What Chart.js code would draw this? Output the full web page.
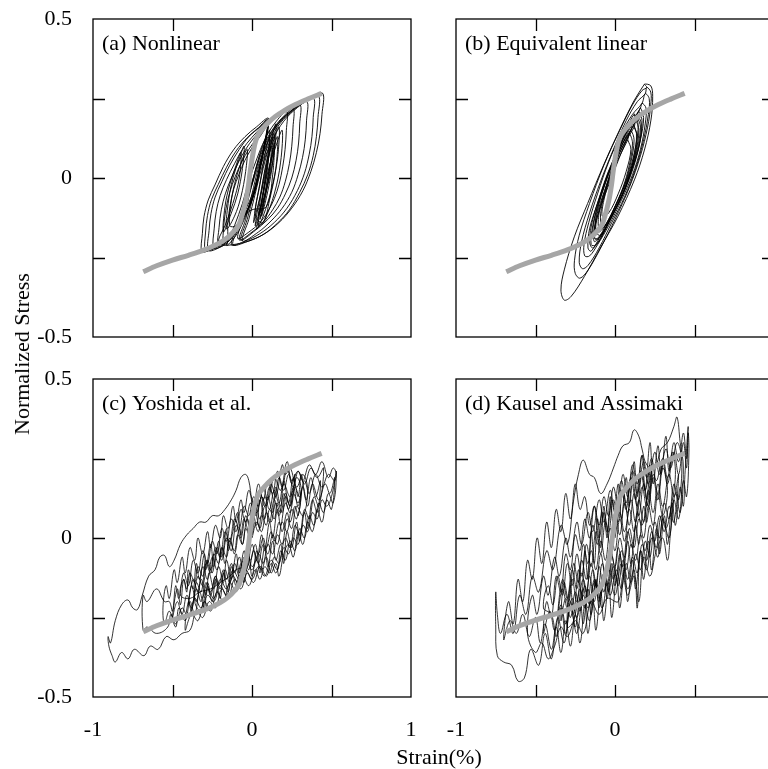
<!DOCTYPE html>
<html>
<head>
<meta charset="utf-8">
<script src="https://cdn.jsdelivr.net/npm/chart.js@4.4.0/dist/chart.umd.min.js"></script>
<style>
  body { margin: 0; background: #fff; overflow: hidden; }
  #fig { position: relative; width: 768px; height: 769px; overflow: hidden; font-family: "Liberation Serif", "Times New Roman", serif; }
  .panel { position: absolute; }
  .lbl { position: absolute; font-size: 22px; line-height: 26px; color: #000; white-space: nowrap; transform: translate(-50%, -50%); }
  #ylab { left: 22px; top: 354px; transform: translate(-50%, -50%) rotate(-90deg); }
  #xlab { left: 439px; top: 757px; }
</style>
</head>
<body>
<div id="fig">
  <div class="panel" style="left:0;top:0;width:440px;height:370px"><canvas id="panelA"></canvas></div>
  <div class="panel" style="left:440px;top:0;width:360px;height:370px"><canvas id="panelB"></canvas></div>
  <div class="panel" style="left:0;top:360px;width:440px;height:409px"><canvas id="panelC"></canvas></div>
  <div class="panel" style="left:440px;top:360px;width:360px;height:409px"><canvas id="panelD"></canvas></div>
  <div class="lbl" id="ylab">Normalized Stress</div>
  <div class="lbl" id="xlab">Strain(%)</div>
</div>
<script>
// axes
const xTickValues = [-1, -0.5, 0, 0.5, 1];
const xTickLabels = ['-1', '', '0', '', '1'];
const yTickValues = [-0.5, -0.25, 0, 0.25, 0.5];
const yTickLabels = ['-0.5', '', '0', '', '0.5'];
const panelTitles = ['(a) Nonlinear', '(b) Equivalent linear', '(c) Yoshida et al.', '(d) Kausel and Assimaki'];

// gray backbone curve (same in every panel)
const backboneStrain = [-0.684, -0.6, -0.5, -0.4, -0.3, -0.2, -0.15, -0.107, -0.08, -0.065, -0.05, -0.034, -0.022, -0.013, -0.003, 0.008, 0.019, 0.035, 0.061, 0.1, 0.145, 0.2, 0.27, 0.35, 0.438];
const backboneStress = [-0.295, -0.276, -0.258, -0.243, -0.226, -0.203, -0.186, -0.164, -0.145, -0.122, -0.095, -0.059, -0.022, 0.015, 0.05, 0.082, 0.109, 0.133, 0.151, 0.173, 0.193, 0.211, 0.23, 0.248, 0.266];

// (a) nonlinear stress-strain loops [strain, stress]
const nonlinearLoops = [
  [0.0,-0.02],[0.04,0.06],[0.08,0.12],[0.11,0.15],[0.1,0.07],[0.07,-0.02],[0.03,-0.1],[0.01,-0.14],[0.03,-0.07],[0.07,0.03],[0.12,0.12],[0.15,0.17],[0.14,0.08],[0.1,-0.02],[0.05,-0.1],[0.02,-0.15],
  [0.05,-0.06],[0.09,0.04],[0.13,0.11],[0.17,0.16],[0.16,0.06],[0.12,-0.04],[0.07,-0.12],[0.03,-0.16],
  [0.06,-0.08],[0.1,0.02],[0.15,0.1],[0.19,0.15],[0.18,0.05],[0.14,-0.05],[0.08,-0.13],[0.04,-0.15],
  [0.07,-0.05],[0.1,0.05],[0.13,0.13],[0.12,0.04],[0.08,-0.06],[0.05,-0.11],
  [0.08,-0.01],[0.11,0.08],[0.14,0.14],[0.13,0.05],[0.1,-0.04],[0.06,-0.12],[0.09,-0.03],[0.12,0.06],[0.16,0.13],[0.15,0.03],[0.11,-0.07],[0.07,-0.14],
  [0.02,-0.12],[0.05,-0.02],[0.08,0.07],[0.11,0.13],[0.1,0.04],[0.07,-0.05],[0.04,-0.12],[0.06,-0.04],[0.09,0.05],[0.12,0.1],[0.11,0.02],[0.08,-0.07],[0.05,-0.13],[0.08,-0.05],[0.11,0.03],[0.14,0.11],[0.13,0.01],[0.09,-0.09],
  [0.0,-0.1],[-0.05,-0.12],[-0.1,-0.15],[-0.14,-0.15],[-0.13,-0.07],[-0.1,0.0],[-0.06,0.06],[-0.03,0.09],[-0.04,0.02],[-0.07,-0.06],[-0.11,-0.12],[-0.16,-0.16],[-0.15,-0.08],[-0.12,0.0],[-0.08,0.06],[-0.05,0.1],[-0.06,0.03],[-0.09,-0.05],[-0.13,-0.11],[-0.18,-0.17],[-0.17,-0.09],[-0.14,-0.02],[-0.1,0.04],[-0.07,0.08],[-0.08,0.0],[-0.12,-0.08],[-0.17,-0.15],[-0.21,-0.2],
  [-0.159,-0.21],[-0.152,-0.14],[-0.137,-0.085],[-0.115,-0.035],[-0.082,0.012],[-0.045,0.055],[0.0,0.095],[0.05,0.13],[0.1,0.165],
  [0.08,0.11],[0.05,0.04],[0.01,-0.04],[-0.05,-0.11],[-0.11,-0.17],[-0.18,-0.208],
  [-0.184,-0.21],[-0.178,-0.15],[-0.163,-0.095],[-0.14,-0.045],[-0.105,0.005],[-0.065,0.05],[-0.02,0.09],[0.03,0.125],[0.08,0.155],[0.1,0.17],
  [0.085,0.12],[0.055,0.05],[0.02,-0.03],[-0.03,-0.1],[-0.1,-0.17],[-0.16,-0.205],
  [-0.212,-0.215],[-0.207,-0.155],[-0.193,-0.1],[-0.168,-0.05],[-0.13,0.0],[-0.085,0.05],[-0.04,0.09],[0.01,0.125],[0.07,0.158],[0.1,0.175],
  [0.09,0.13],[0.06,0.06],[0.03,-0.02],[-0.02,-0.09],[-0.08,-0.15],[-0.15,-0.2],[-0.21,-0.22],
  [-0.243,-0.22],[-0.238,-0.16],[-0.225,-0.105],[-0.2,-0.055],[-0.16,-0.005],[-0.11,0.045],[-0.06,0.09],[0.0,0.128],[0.06,0.16],[0.1,0.18],
  [0.09,0.14],[0.065,0.07],[0.035,0.0],[-0.01,-0.08],[-0.07,-0.14],[-0.14,-0.19],[-0.22,-0.222],
  [-0.275,-0.227],[-0.27,-0.165],[-0.258,-0.112],[-0.232,-0.06],[-0.19,-0.012],[-0.14,0.04],[-0.08,0.09],[-0.02,0.13],[0.05,0.16],[0.1,0.182],
  [0.095,0.15],[0.07,0.08],[0.04,0.01],[0.0,-0.07],[-0.06,-0.13],[-0.13,-0.18],[-0.21,-0.215],[-0.27,-0.228],
  [-0.296,-0.229],[-0.292,-0.17],[-0.28,-0.118],[-0.255,-0.068],[-0.212,-0.02],[-0.16,0.034],[-0.1,0.085],[-0.03,0.127],[0.04,0.158],[0.1,0.185],
  [0.1,0.155],[0.075,0.09],[0.045,0.02],[0.005,-0.06],[-0.05,-0.12],[-0.12,-0.175],[-0.2,-0.21],[-0.28,-0.23],
  [-0.317,-0.232],[-0.312,-0.174],[-0.302,-0.122],[-0.275,-0.069],[-0.233,-0.022],[-0.18,0.036],[-0.117,0.088],[-0.044,0.13],[0.029,0.161],[0.103,0.188],
  [0.09,0.13],[0.06,0.05],[0.02,-0.04],[-0.04,-0.12],[-0.1,-0.18],[-0.16,-0.212],
  [-0.11,-0.15],[-0.06,-0.08],[-0.02,-0.01],[0.03,0.06],[0.08,0.12],[0.14,0.17],[0.218,0.209],
  [0.216,0.15],[0.208,0.09],[0.193,0.035],[0.17,-0.02],[0.14,-0.065],[0.1,-0.105],[0.05,-0.14],[-0.02,-0.17],[-0.09,-0.19],
  [-0.05,-0.12],[-0.01,-0.04],[0.03,0.04],[0.08,0.11],[0.14,0.16],[0.2,0.195],[0.26,0.219],
  [0.258,0.16],[0.25,0.1],[0.235,0.045],[0.21,-0.01],[0.175,-0.06],[0.13,-0.1],[0.07,-0.14],[0.0,-0.17],[-0.08,-0.195],
  [-0.04,-0.13],[0.0,-0.05],[0.04,0.03],[0.09,0.1],[0.15,0.16],[0.22,0.2],[0.302,0.23],
  [0.3,0.17],[0.293,0.11],[0.277,0.055],[0.25,0.0],[0.21,-0.05],[0.16,-0.095],[0.1,-0.13],[0.02,-0.165],[-0.07,-0.195],
  [-0.03,-0.13],[0.01,-0.05],[0.05,0.03],[0.1,0.1],[0.16,0.16],[0.24,0.205],[0.344,0.24],
  [0.343,0.18],[0.335,0.12],[0.318,0.065],[0.29,0.01],[0.25,-0.045],[0.19,-0.095],[0.12,-0.135],[0.04,-0.17],[-0.06,-0.198],
  [-0.02,-0.13],[0.02,-0.05],[0.06,0.03],[0.11,0.1],[0.18,0.165],[0.27,0.215],[0.386,0.25],
  [0.385,0.19],[0.377,0.13],[0.36,0.075],[0.33,0.015],[0.285,-0.04],[0.22,-0.095],[0.14,-0.14],[0.05,-0.175],[-0.05,-0.2],[-0.13,-0.21],
  [-0.08,-0.14],[-0.03,-0.06],[0.02,0.02],[0.07,0.09],[0.13,0.15],[0.21,0.195],[0.31,0.232],[0.417,0.258],
  [0.415,0.19],[0.405,0.13],[0.385,0.07],[0.35,0.01],[0.3,-0.045],[0.235,-0.1],[0.16,-0.142],[0.07,-0.178],[-0.03,-0.2],[-0.12,-0.21],
  [-0.08,-0.15],[-0.03,-0.07],[0.02,0.01],[0.07,0.08],[0.13,0.145],[0.2,0.19],[0.29,0.228],[0.37,0.25],[0.445,0.266],
  [0.44,0.2],[0.428,0.14],[0.405,0.08],[0.37,0.02],[0.32,-0.04],[0.25,-0.095],[0.17,-0.14],[0.08,-0.175],[-0.02,-0.198],[-0.1,-0.208],[-0.16,-0.212]
];

// (b) equivalent linear ellipses [strain, stress]
const equivalentLoops = [
  [0.08,0.12],[0.1,0.09],[0.07,0.02],[0.02,-0.05],[-0.04,-0.11],[-0.08,-0.12],[-0.07,-0.07],[-0.03,0.0],[0.03,0.07],[0.08,0.12],
  [0.09,0.14],[0.11,0.11],[0.09,0.04],[0.05,-0.03],[-0.01,-0.1],[-0.06,-0.15],[-0.09,-0.14],[-0.08,-0.08],[-0.04,-0.01],[0.02,0.07],[0.09,0.14],
  [0.1,0.15],[0.12,0.12],[0.1,0.05],[0.06,-0.02],[0.0,-0.09],[-0.06,-0.15],[-0.1,-0.16],[-0.1,-0.11],[-0.06,-0.04],[-0.01,0.04],[0.05,0.11],[0.1,0.15],
  [0.11,0.17],[0.135,0.14],[0.12,0.07],[0.08,-0.01],[0.02,-0.08],[-0.04,-0.14],[-0.09,-0.18],[-0.12,-0.17],[-0.11,-0.12],[-0.07,-0.05],[-0.02,0.03],[0.04,0.1],[0.11,0.17],
  [0.12,0.16],[0.14,0.13],[0.12,0.06],[0.07,-0.02],[0.01,-0.09],[-0.05,-0.15],[-0.1,-0.19],[-0.13,-0.19],[-0.12,-0.13],[-0.08,-0.06],[-0.02,0.02],[0.05,0.1],[0.12,0.16],
  [0.13,0.18],[0.15,0.15],[0.13,0.08],[0.08,0.0],[0.02,-0.07],[-0.05,-0.14],[-0.11,-0.19],[-0.14,-0.18],[-0.12,-0.11],[-0.07,-0.03],[-0.01,0.05],[0.06,0.12],[0.13,0.18],
  [0.12,0.2],[0.145,0.17],[0.13,0.1],[0.09,0.02],[0.03,-0.06],[-0.04,-0.13],[-0.1,-0.17],[-0.125,-0.15],[-0.1,-0.08],[-0.05,0.0],[0.01,0.08],[0.07,0.15],[0.12,0.2],
  [0.14,0.19],[0.16,0.16],[0.14,0.09],[0.1,0.02],[0.04,-0.06],[-0.03,-0.13],[-0.09,-0.18],[-0.13,-0.2],[-0.13,-0.16],[-0.09,-0.09],[-0.03,-0.01],[0.04,0.08],[0.1,0.15],[0.14,0.19],
  [0.14,0.2],[0.165,0.17],[0.15,0.1],[0.1,0.02],[0.04,-0.06],[-0.03,-0.13],[-0.1,-0.19],[-0.15,-0.23],[-0.17,-0.22],[-0.16,-0.16],[-0.11,-0.08],[-0.05,0.01],[0.02,0.09],[0.09,0.16],[0.14,0.2],
  [0.15,0.21],[0.17,0.18],[0.155,0.11],[0.11,0.03],[0.05,-0.05],[-0.02,-0.12],[-0.09,-0.19],[-0.14,-0.22],[-0.16,-0.2],[-0.14,-0.13],[-0.09,-0.05],[-0.02,0.04],[0.05,0.12],[0.11,0.18],[0.15,0.21],
  [0.16,0.22],[0.18,0.19],[0.16,0.12],[0.12,0.04],[0.06,-0.04],[-0.01,-0.11],[-0.07,-0.17],[-0.12,-0.21],[-0.15,-0.21],[-0.14,-0.15],[-0.1,-0.07],[-0.04,0.02],[0.03,0.1],[0.1,0.17],[0.16,0.22],
  [0.17,0.235],[0.195,0.22],[0.19,0.17],[0.16,0.09],[0.11,0.01],[0.04,-0.07],[-0.04,-0.15],[-0.11,-0.21],[-0.16,-0.245],[-0.19,-0.245],[-0.195,-0.21],[-0.165,-0.14],[-0.11,-0.05],[-0.04,0.05],[0.04,0.14],[0.11,0.2],[0.17,0.235],
  [0.19,0.265],[0.215,0.25],[0.21,0.2],[0.18,0.12],[0.13,0.03],[0.06,-0.06],[-0.02,-0.14],[-0.1,-0.22],[-0.17,-0.275],[-0.205,-0.285],[-0.225,-0.265],[-0.21,-0.2],[-0.16,-0.11],[-0.09,-0.01],[-0.01,0.09],[0.07,0.18],[0.14,0.24],[0.19,0.265],
  [0.2,0.285],[0.225,0.27],[0.225,0.23],[0.205,0.16],[0.16,0.07],[0.09,-0.03],[0.0,-0.13],[-0.09,-0.22],[-0.17,-0.29],[-0.22,-0.315],[-0.25,-0.3],[-0.255,-0.26],[-0.225,-0.18],[-0.16,-0.08],[-0.07,0.04],[0.03,0.15],[0.11,0.23],[0.17,0.275],[0.2,0.285],
  [0.185,0.295],[0.225,0.29],[0.237,0.256],[0.226,0.182],[0.185,0.088],[0.122,-0.006],[0.017,-0.122],[-0.088,-0.216],[-0.193,-0.31],[-0.277,-0.373],[-0.319,-0.384],[-0.34,-0.352],[-0.319,-0.289],[-0.256,-0.185],[-0.172,-0.08],[-0.067,0.046],[0.038,0.161],[0.122,0.245],[0.185,0.295]
];

// (c) Yoshida et al. [strain, stress]
const yoshidaLoops = [
  [0.0,0.0],[0.03,0.05],[0.06,0.02],[0.09,0.08],[0.12,0.05],[0.15,0.11],[0.18,0.08],[0.21,0.14],[0.24,0.1],[0.27,0.16],[0.3,0.13],[0.33,0.18],[0.36,0.14],[0.4,0.2],[0.44,0.16],[0.48,0.2],[0.52,0.18],[0.53,0.21],
  [0.5,0.13],[0.47,0.1],[0.44,0.12],[0.41,0.06],[0.38,0.08],[0.35,0.02],[0.32,0.04],[0.29,-0.02],[0.26,0.0],[0.23,-0.05],[0.2,-0.03],[0.17,-0.08],[0.14,-0.06],[0.11,-0.11],[0.08,-0.09],[0.05,-0.13],[0.02,-0.1],[-0.02,-0.15],[-0.06,-0.12],[-0.1,-0.17],[-0.14,-0.14],[-0.18,-0.2],[-0.22,-0.17],[-0.26,-0.23],[-0.3,-0.2],[-0.34,-0.26],[-0.38,-0.24],[-0.42,-0.29],
  [-0.4,-0.2],[-0.38,-0.23],[-0.35,-0.14],[-0.32,-0.17],[-0.29,-0.08],[-0.26,-0.11],[-0.23,-0.03],[-0.2,-0.06],[-0.17,0.02],[-0.14,-0.01],[-0.11,0.06],[-0.08,0.03],[-0.05,0.1],[-0.02,0.07],[0.01,0.13],[0.04,0.1],[0.07,0.16],[0.1,0.12],[0.14,0.19],[0.18,0.15],[0.22,0.24],[0.25,0.18],[0.29,0.21],[0.33,0.17],[0.37,0.22],[0.41,0.19],[0.45,0.22],
  [0.42,0.1],[0.39,0.13],[0.36,0.06],[0.33,0.09],[0.3,0.01],[0.27,0.04],[0.24,-0.03],[0.21,0.0],[0.18,-0.06],[0.15,-0.11],[0.12,-0.08],[0.09,-0.12],[0.05,-0.09],[0.01,-0.14],[-0.03,-0.11],[-0.07,-0.16],[-0.11,-0.13],[-0.15,-0.19],[-0.19,-0.16],[-0.23,-0.22],[-0.27,-0.2],[-0.31,-0.25],[-0.35,-0.23],[-0.39,-0.29],[-0.44,-0.3],[-0.49,-0.32],[-0.54,-0.31],[-0.59,-0.35],[-0.64,-0.34],[-0.68,-0.37],[-0.74,-0.35],[-0.78,-0.38],[-0.82,-0.36],[-0.86,-0.39],[-0.88,-0.37],[-0.9,-0.34],[-0.905,-0.31],[-0.89,-0.33],
  [-0.86,-0.26],[-0.82,-0.21],[-0.78,-0.195],[-0.75,-0.22],[-0.72,-0.225],[-0.69,-0.18],[-0.65,-0.12],[-0.61,-0.1],[-0.58,-0.06],[-0.55,-0.055],[-0.52,-0.09],[-0.49,-0.07],[-0.45,-0.02],[-0.41,0.01],[-0.37,0.03],[-0.33,0.05],[-0.29,0.05],[-0.25,0.07],[-0.21,0.07],[-0.17,0.09],[-0.13,0.12],[-0.1,0.15],[-0.07,0.19],[-0.04,0.2],[-0.02,0.18],[0.0,0.12],[0.03,0.08],[0.06,0.13],[0.09,0.1],[0.12,0.17],[0.15,0.13],[0.19,0.23],[0.21,0.2],[0.24,0.22],[0.28,0.16],[0.32,0.2],[0.35,0.15],
  [0.32,0.07],[0.28,0.1],[0.25,0.03],[0.22,0.06],[0.19,-0.02],[0.16,0.01],[0.13,-0.05],[0.1,-0.02],[0.07,-0.08],[0.04,-0.05],[0.0,-0.1],[-0.04,-0.07],[-0.08,-0.13],[-0.12,-0.1],[-0.16,-0.16],[-0.2,-0.13],[-0.24,-0.19],[-0.28,-0.16],[-0.32,-0.22],[-0.36,-0.19],[-0.4,-0.25],[-0.44,-0.22],[-0.48,-0.27],[-0.51,-0.24],[-0.53,-0.28],[-0.6,-0.3],[-0.66,-0.28],[-0.685,-0.29],[-0.685,-0.18],[-0.66,-0.2],
  [-0.6,-0.16],[-0.55,-0.2],[-0.52,-0.2],[-0.5,-0.23],[-0.48,-0.15],[-0.46,-0.19],[-0.43,-0.11],[-0.4,-0.15],[-0.37,-0.07],[-0.34,-0.11],[-0.31,-0.04],[-0.28,-0.08],[-0.25,-0.01],[-0.22,-0.05],[-0.19,0.03],[-0.16,-0.01],[-0.13,0.06],[-0.1,0.02],[-0.07,0.09],[-0.04,0.05],[-0.01,0.11],[0.02,0.07],[0.05,0.14],[0.08,0.1],[0.11,0.16],[0.14,0.12],[0.17,0.19],[0.2,0.15],[0.23,0.2],[0.26,0.16],[0.29,0.21],[0.32,0.18],[0.36,0.23],[0.4,0.2],[0.44,0.24],[0.48,0.19],[0.51,0.22],[0.53,0.2],
  [0.51,0.11],[0.48,0.14],[0.45,0.08],[0.42,0.11],[0.39,0.04],[0.36,0.07],[0.33,0.0],[0.3,0.03],[0.27,-0.04],[0.24,-0.01],[0.21,-0.07],[0.18,-0.04],[0.16,-0.1],[0.12,-0.07],[0.08,-0.12],[0.04,-0.09],[0.0,-0.13],[-0.04,-0.1],[-0.08,-0.15],[-0.12,-0.12],[-0.16,-0.18],[-0.2,-0.15],[-0.24,-0.2],[-0.28,-0.18],[-0.32,-0.23],[-0.36,-0.2],
  [-0.34,-0.12],[-0.31,-0.15],[-0.28,-0.07],[-0.25,-0.11],[-0.22,-0.03],[-0.19,-0.07],[-0.16,0.0],[-0.13,-0.04],[-0.1,0.04],[-0.07,0.0],[-0.04,0.07],[-0.01,0.03],[0.02,0.1],[0.05,0.06],[0.08,0.13],[0.11,0.09],[0.14,0.15],[0.17,0.11],[0.2,0.17],[0.24,0.13],[0.28,0.19],[0.31,0.15],
  [0.28,0.06],[0.25,0.09],[0.22,0.02],[0.19,0.05],[0.16,-0.02],[0.13,0.01],[0.1,-0.05],[0.07,-0.02],[0.04,-0.08],[0.01,-0.04],[-0.02,-0.1],[-0.05,-0.06],[-0.08,-0.12],[-0.11,-0.08],[-0.14,-0.14],[-0.17,-0.1],[-0.2,-0.16],[-0.23,-0.12],[-0.26,-0.18],[-0.29,-0.14],[-0.32,-0.2],[-0.35,-0.16],[-0.38,-0.22],[-0.41,-0.18],[-0.44,-0.24],[-0.47,-0.2],[-0.5,-0.25],
  [-0.47,-0.16],[-0.45,-0.21],[-0.43,-0.13],[-0.41,-0.17],[-0.4,-0.1],[-0.37,-0.16],[-0.35,-0.08],[-0.33,-0.13],[-0.3,-0.05],[-0.29,-0.1],[-0.26,-0.02],[-0.24,-0.09],[-0.21,-0.01],[-0.19,-0.06],[-0.16,0.03],[-0.15,-0.04],[-0.12,0.02],[-0.09,0.08],[-0.07,0.01],[-0.05,0.06],[-0.02,0.02],[0.0,0.09],[0.03,0.04],[0.05,0.12],[0.08,0.06],[0.1,0.13],[0.13,0.08],[0.15,0.16],[0.18,0.1],[0.2,0.18],[0.23,0.11],[0.26,0.19],[0.29,0.13],[0.31,0.2],[0.34,0.12],[0.37,0.19],[0.4,0.13],[0.43,0.18],
  [0.41,0.08],[0.38,0.12],[0.35,0.03],[0.33,0.08],[0.3,-0.01],[0.28,0.05],[0.25,-0.03],[0.22,0.02],[0.2,-0.08],[0.18,-0.02],[0.15,-0.07],[0.13,-0.01],[0.1,-0.09],[0.08,-0.03],[0.05,-0.11],[0.03,-0.04],[0.0,-0.12],[-0.02,-0.06],[-0.05,-0.14],[-0.07,-0.08],[-0.1,-0.15],[-0.13,-0.09],[-0.15,-0.17],[-0.18,-0.11],[-0.2,-0.19],[-0.23,-0.13],[-0.25,-0.2],[-0.28,-0.15],[-0.3,-0.22],[-0.33,-0.17],[-0.36,-0.24],[-0.39,-0.2],[-0.42,-0.26],[-0.46,-0.22],[-0.48,-0.28],[-0.52,-0.23],[-0.55,-0.27],[-0.56,-0.22],
  [-0.54,-0.15],[-0.52,-0.19],[-0.49,-0.1],[-0.47,-0.14],[-0.44,-0.06],[-0.42,-0.11],[-0.39,-0.03],[-0.36,-0.07],[-0.34,0.0],[-0.31,-0.05],[-0.28,0.02],[-0.26,-0.03],[-0.23,0.04],[-0.2,0.0],[-0.18,0.07],[-0.15,0.03],[-0.12,0.1],[-0.1,0.05],[-0.07,0.12],[-0.05,0.08],[-0.02,0.15],[0.01,0.1],[0.04,0.17],[0.07,0.12],[0.1,0.18],[0.13,0.14],[0.16,0.21],[0.19,0.16],[0.22,0.22],[0.25,0.17],[0.27,0.2],
  [0.24,0.08],[0.21,0.11],[0.18,0.04],[0.16,0.09],[0.13,0.0],[0.11,0.05],[0.08,-0.04],[0.06,0.01],[0.03,-0.07],[0.0,-0.02],[-0.03,-0.09],[-0.05,-0.04],[-0.08,-0.11],[-0.1,-0.05],[-0.13,-0.13],[-0.16,-0.07],[-0.18,-0.14],[-0.21,-0.09],[-0.24,-0.16],[-0.27,-0.11],[-0.29,-0.18],[-0.32,-0.13],[-0.35,-0.2],[-0.38,-0.15],[-0.4,-0.21],
  [-0.37,-0.13],[-0.34,-0.17],[-0.31,-0.09],[-0.28,-0.13],[-0.25,-0.06],[-0.22,-0.1],[-0.19,-0.03],[-0.17,-0.08],[-0.14,0.0],[-0.11,-0.05],[-0.08,0.03],[-0.06,-0.02],[-0.03,0.06],[0.0,0.01],[0.02,0.08],[0.05,0.03],[0.08,0.1],[0.11,0.05],[0.14,0.12],[0.17,0.07],[0.2,0.14],[0.23,0.09],[0.26,0.16],[0.29,0.1],[0.32,0.16],[0.35,0.1],[0.38,0.17],[0.42,0.12],[0.46,0.17],[0.49,0.14],[0.52,0.19],
  [0.5,0.09],[0.47,0.12],[0.44,0.05],[0.41,0.09],[0.38,0.02],[0.35,0.05],[0.32,-0.02],[0.29,0.02],[0.26,-0.06],[0.23,-0.02],[0.2,-0.05],[0.17,-0.12],[0.15,-0.08],[0.12,-0.11],[0.09,-0.06],[0.06,-0.1],[0.03,-0.07],[0.0,-0.09],[-0.03,-0.05],[-0.06,-0.09],
  [-0.1,-0.1],[-0.14,-0.12],[-0.2,-0.14],[-0.26,-0.16],[-0.33,-0.17],[-0.39,-0.19],[-0.45,-0.18],
  [-0.43,-0.13],[-0.41,-0.16],[-0.39,-0.11],[-0.36,-0.14],[-0.34,-0.09],[-0.31,-0.12],[-0.29,-0.07],[-0.26,-0.1],[-0.24,-0.05],[-0.21,-0.08],[-0.19,-0.03],[-0.16,-0.06],[-0.14,-0.01],[-0.11,-0.04],[-0.09,0.01],[-0.06,-0.02],[-0.04,0.03],[-0.01,0.0],[0.01,0.05],[0.04,0.02],[0.06,0.07],[0.09,0.04],[0.11,0.09],[0.14,0.06],[0.16,0.11],[0.19,0.08],[0.21,0.13],[0.24,0.1],[0.26,0.14],[0.29,0.11],[0.31,0.15],
  [0.29,0.07],[0.27,0.1],[0.24,0.05],[0.22,0.08],[0.19,0.02],[0.17,0.05],[0.14,-0.01],[0.12,0.02],[0.09,-0.03],[0.07,0.0],[0.04,-0.05],[0.02,-0.02],[-0.01,-0.07],[-0.03,-0.04],[-0.06,-0.09],[-0.08,-0.06],[-0.11,-0.11],[-0.13,-0.08],[-0.16,-0.13],[-0.18,-0.1],[-0.21,-0.15],[-0.23,-0.12],[-0.26,-0.17],[-0.28,-0.14],[-0.31,-0.19]
];

// (d) Kausel and Assimaki [strain, stress]
const kauselLoops = [
  [0.0,0.0],[0.03,0.08],[0.06,0.02],[0.1,0.12],[0.13,0.05],[0.17,0.16],[0.2,0.1],[0.24,0.2],[0.27,0.14],[0.3,0.24],[0.33,0.17],[0.37,0.27],[0.4,0.2],[0.43,0.3],[0.45,0.22],[0.46,0.33],[0.465,0.27],
  [0.45,0.13],[0.43,0.18],[0.4,0.06],[0.37,0.12],[0.34,0.0],[0.3,0.06],[0.27,-0.06],[0.23,0.0],[0.2,-0.1],[0.16,-0.04],[0.14,-0.22],[0.12,-0.1],[0.08,-0.16],[0.04,-0.08],[0.0,-0.18],[-0.04,-0.1],[-0.08,-0.22],[-0.12,-0.14],[-0.16,-0.26],[-0.2,-0.18],[-0.24,-0.3],[-0.28,-0.22],[-0.32,-0.33],[-0.36,-0.25],[-0.4,-0.38],[-0.44,-0.3],[-0.48,-0.4],[-0.53,-0.35],[-0.57,-0.44],[-0.61,-0.45],[-0.65,-0.4],[-0.7,-0.39],[-0.74,-0.37],[-0.75,-0.28],[-0.75,-0.17],[-0.74,-0.24],[-0.72,-0.3],
  [-0.68,-0.24],[-0.64,-0.3],[-0.6,-0.18],[-0.56,-0.24],[-0.52,-0.12],[-0.48,-0.17],[-0.43,-0.04],[-0.39,-0.1],[-0.34,0.04],[-0.3,-0.02],[-0.26,0.12],[-0.23,0.2],[-0.2,0.245],[-0.16,0.2],[-0.13,0.19],[-0.09,0.14],[-0.05,0.17],[-0.01,0.22],[0.02,0.26],[0.05,0.29],[0.09,0.3],[0.12,0.34],[0.15,0.32],[0.17,0.28],[0.2,0.23],[0.25,0.22],[0.29,0.28],[0.33,0.3],[0.37,0.35],[0.39,0.38],[0.41,0.3],[0.43,0.22],
  [0.41,0.08],[0.38,0.14],[0.35,0.02],[0.33,-0.07],[0.3,0.0],[0.26,-0.04],[0.22,-0.12],[0.18,-0.06],[0.15,-0.2],[0.12,-0.12],[0.08,-0.18],[0.05,-0.12],[0.02,-0.2],[-0.05,-0.19],[-0.1,-0.24],[-0.15,-0.2],[-0.2,-0.3],[-0.25,-0.26],[-0.3,-0.31],[-0.34,-0.28],[-0.38,-0.34],[-0.42,-0.38],[-0.46,-0.33],[-0.5,-0.36],[-0.55,-0.3],
  [-0.52,-0.18],[-0.49,-0.24],[-0.45,-0.12],[-0.42,-0.18],[-0.38,-0.06],[-0.35,-0.12],[-0.31,0.0],[-0.28,-0.06],[-0.24,0.05],[-0.21,-0.02],[-0.17,0.08],[-0.14,0.02],[-0.1,0.12],[-0.07,0.05],[-0.03,0.15],[0.0,0.08],[0.04,0.18],[0.07,0.11],[0.11,0.21],[0.14,0.14],[0.18,0.24],[0.21,0.17],[0.25,0.27],[0.28,0.2],[0.32,0.28],[0.35,0.22],[0.39,0.3],[0.42,0.24],
  [0.4,0.12],[0.37,0.17],[0.34,0.06],[0.31,0.11],[0.28,0.0],[0.25,0.05],[0.22,-0.06],[0.19,-0.01],[0.16,-0.1],[0.13,-0.05],[0.1,-0.14],[0.07,-0.08],[0.04,-0.16],[0.01,-0.1],[-0.03,-0.18],[-0.06,-0.12],[-0.1,-0.2],[-0.13,-0.14],[-0.17,-0.22],[-0.2,-0.16],[-0.24,-0.25],[-0.27,-0.19],[-0.31,-0.27],[-0.34,-0.21],[-0.38,-0.29],[-0.41,-0.23],[-0.45,-0.3],
  [-0.43,-0.2],[-0.4,-0.25],[-0.37,-0.12],[-0.34,-0.17],[-0.31,-0.05],[-0.28,-0.1],[-0.25,0.01],[-0.22,-0.04],[-0.19,0.06],[-0.16,0.0],[-0.13,0.1],[-0.1,0.04],[-0.07,0.13],[-0.04,0.07],[-0.01,0.16],[0.02,0.1],[0.05,0.2],[0.08,0.13],[0.11,0.23],[0.14,0.17],[0.17,0.26],[0.2,0.19],[0.23,0.25],[0.26,0.18],[0.3,0.25],[0.33,0.19],[0.36,0.27],[0.38,0.2],
  [0.35,0.09],[0.32,0.03],[0.29,0.07],[0.26,-0.03],[0.23,0.02],[0.2,-0.07],[0.17,-0.02],[0.14,-0.11],[0.11,-0.06],[0.08,-0.13],[0.05,-0.07],[0.02,-0.15],[-0.01,-0.09],[-0.04,-0.17],[-0.07,-0.11],[-0.1,-0.19],[-0.13,-0.13],[-0.16,-0.21],[-0.19,-0.15],[-0.22,-0.23],[-0.25,-0.17],[-0.28,-0.25],[-0.31,-0.19],[-0.34,-0.26],
  [-0.32,-0.14],[-0.29,-0.2],[-0.26,-0.08],[-0.23,-0.14],[-0.2,-0.02],[-0.17,-0.08],[-0.14,0.04],[-0.11,-0.02],[-0.08,0.08],[-0.05,0.02],[-0.02,0.12],[0.01,0.06],[0.04,0.15],[0.07,0.09],[0.1,0.19],[0.13,0.12],[0.16,0.21],[0.19,0.15],[0.22,0.23],
  [0.2,0.12],[0.17,0.04],[0.14,0.08],[0.11,-0.03],[0.08,0.02],[0.05,-0.09],[0.02,-0.03],[-0.01,-0.13],[-0.04,-0.06],[-0.07,-0.17],[-0.1,-0.09],[-0.13,-0.2],[-0.16,-0.12],[-0.19,-0.22],[-0.22,-0.16],[-0.26,-0.26],[-0.3,-0.28],
  [-0.28,-0.15],[-0.26,-0.24],[-0.23,-0.1],[-0.21,-0.19],[-0.19,-0.04],[-0.17,-0.13],[-0.15,0.02],[-0.13,-0.08],[-0.11,0.06],[-0.09,-0.03],[-0.07,0.1],[-0.05,0.0],[-0.03,0.13],[-0.01,0.04],[0.02,0.17],[0.04,0.06],[0.07,0.19],[0.09,0.1],[0.12,0.24],[0.14,0.13],[0.17,0.26],[0.19,0.15],[0.22,0.3],[0.24,0.17],[0.27,0.29],[0.29,0.2],[0.32,0.32],[0.34,0.21],[0.37,0.3],[0.4,0.24],[0.43,0.33],[0.45,0.25],[0.46,0.35],
  [0.44,0.2],[0.43,0.1],[0.41,0.16],[0.38,0.04],[0.36,0.11],[0.33,-0.02],[0.31,0.07],[0.28,-0.05],[0.26,0.03],[0.23,-0.1],[0.21,-0.01],[0.18,-0.13],[0.16,-0.04],[0.13,-0.16],[0.11,-0.07],[0.08,-0.2],[0.06,-0.1],[0.03,-0.22],[0.01,-0.12],[-0.02,-0.25],[-0.04,-0.14],[-0.07,-0.26],[-0.09,-0.17],[-0.12,-0.29],[-0.14,-0.19],[-0.17,-0.3],[-0.19,-0.21],[-0.22,-0.33],[-0.25,-0.24],[-0.28,-0.34],[-0.31,-0.26],[-0.34,-0.36],[-0.37,-0.28],[-0.4,-0.35],[-0.44,-0.27],[-0.47,-0.33],[-0.5,-0.25],[-0.54,-0.31],[-0.58,-0.24],[-0.62,-0.3],[-0.66,-0.26],[-0.7,-0.32],
  [-0.67,-0.2],[-0.64,-0.27],[-0.61,-0.13],[-0.58,-0.2],[-0.55,-0.07],[-0.52,-0.13],[-0.49,0.0],[-0.46,-0.08],[-0.43,0.05],[-0.4,-0.03],[-0.37,0.09],[-0.34,0.02],[-0.31,0.14],[-0.28,0.06],[-0.25,0.17],[-0.22,0.09],[-0.19,0.13],[-0.16,0.04],[-0.13,0.1],[-0.1,0.0],[-0.07,0.08],[-0.04,0.02],[-0.01,0.12],[0.02,0.05],[0.05,0.15],[0.08,0.08],[0.11,0.18],[0.14,0.1],[0.17,0.2],[0.2,0.12],[0.23,0.21],
  [0.2,0.05],[0.18,0.1],[0.15,-0.02],[0.13,0.04],[0.1,-0.08],[0.08,-0.01],[0.05,-0.12],[0.03,-0.05],[0.0,-0.15],[-0.02,-0.08],[-0.05,-0.19],[-0.07,-0.11],[-0.1,-0.22],[-0.12,-0.13],[-0.15,-0.24],[-0.17,-0.16],[-0.2,-0.27],[-0.22,-0.19],[-0.25,-0.28],[-0.28,-0.2],[-0.31,-0.3],[-0.34,-0.22],[-0.37,-0.31],[-0.4,-0.24],[-0.45,-0.22],
  [-0.42,-0.15],[-0.39,-0.21],[-0.36,-0.12],[-0.33,-0.18],[-0.3,-0.08],[-0.27,-0.15],[-0.24,-0.05],[-0.21,-0.12],[-0.18,-0.02],[-0.15,-0.09],[-0.12,0.02],[-0.09,-0.05],[-0.06,0.05],[-0.03,-0.02],[0.0,0.08],[0.03,0.01],[0.06,0.11],[0.09,0.04],[0.12,0.14],[0.15,0.07],[0.18,0.17],[0.21,0.1],[0.24,0.19],[0.27,0.12],[0.3,0.22],[0.33,0.15],
  [0.3,0.07],[0.27,0.14],[0.24,0.04],[0.21,0.1],[0.18,0.0],[0.15,0.06],[0.12,-0.03],[0.09,0.03],[0.06,-0.06],[0.03,0.0],[0.0,-0.09],[-0.03,-0.03],[-0.06,-0.12],[-0.09,-0.05],[-0.12,-0.15],[-0.15,-0.08],[-0.18,-0.17],[-0.21,-0.11],[-0.24,-0.2],[-0.27,-0.13],[-0.3,-0.22],[-0.33,-0.16],[-0.36,-0.24],
  [-0.33,-0.13],[-0.3,-0.19],[-0.27,-0.1],[-0.24,-0.16],[-0.21,-0.07],[-0.18,-0.13],[-0.15,-0.04],[-0.12,-0.1],[-0.09,-0.01],[-0.06,-0.07],[-0.03,0.03],[0.0,-0.04],[0.03,0.06],[0.06,-0.01],[0.09,0.09],[0.12,0.02],[0.15,0.12],[0.18,0.05],[0.21,0.15],[0.24,0.08],[0.27,0.17],[0.3,0.1],[0.34,0.2],[0.37,0.13],[0.4,0.2],
  [0.37,0.05],[0.34,0.1],[0.31,0.02],[0.28,0.07],[0.25,-0.01],[0.22,0.04],[0.19,-0.04],[0.16,0.01],[0.13,-0.07],[0.1,-0.02],[0.07,-0.1],[0.04,-0.04],[0.01,-0.12],[-0.02,-0.06],[-0.05,-0.15],[-0.08,-0.08],[-0.11,-0.17],[-0.14,-0.1],[-0.17,-0.19],[-0.2,-0.13],[-0.23,-0.21]
];

Chart.defaults.font.family = '"Liberation Serif", "Times New Roman", serif';
Chart.defaults.font.size = 22;
Chart.defaults.color = '#000';

// box frame with inward ticks on all four sides, and the panel title
const frameTicks = {
  id: 'frameTicks',
  afterDatasetsDraw(chart, args, opts) {
    const { ctx, chartArea: a, scales: { x, y } } = chart;
    ctx.save();
    ctx.strokeStyle = '#000';
    ctx.lineWidth = 1.3;
    ctx.strokeRect(a.left, a.top, a.right - a.left, a.bottom - a.top);
    ctx.beginPath();
    xTickValues.slice(1, -1).forEach(v => {
      const px = Math.round(x.getPixelForValue(v)) + 0.5;
      ctx.moveTo(px, a.bottom); ctx.lineTo(px, a.bottom - 12);
      ctx.moveTo(px, a.top); ctx.lineTo(px, a.top + 12);
    });
    yTickValues.slice(1, -1).forEach(v => {
      const py = Math.round(y.getPixelForValue(v)) + 0.5;
      ctx.moveTo(a.left, py); ctx.lineTo(a.left + 12, py);
      ctx.moveTo(a.right, py); ctx.lineTo(a.right - 12, py);
    });
    ctx.stroke();
    ctx.fillStyle = '#000';
    ctx.font = '22px "Liberation Serif", serif';
    ctx.textBaseline = 'alphabetic';
    ctx.fillText(opts.title, a.left + 9, a.top + 31);
    ctx.restore();
  }
};

function toPoints(pairs) {
  return pairs.map(p => ({ x: p[0], y: p[1] }));
}

// keep tick labels from pushing the plot area around
function noScalePadding(s) {
  s.paddingLeft = 0; s.paddingRight = 0; s.paddingTop = 0; s.paddingBottom = 0;
}

function makePanel(canvasId, title, loops, box) {
  new Chart(document.getElementById(canvasId), {
    type: 'scatter',
    data: {
      datasets: [
        {
          data: backboneStrain.map((s, i) => ({ x: s, y: backboneStress[i] })),
          showLine: true,
          borderColor: '#a6a6a6',
          borderWidth: 5,
          pointRadius: 0,
          cubicInterpolationMode: 'monotone'
        },
        {
          data: toPoints(loops),
          showLine: true,
          borderColor: '#000',
          borderWidth: box.lineWidth,
          pointRadius: 0,
          tension: box.tension
        }
      ]
    },
    options: {
      responsive: true,
      maintainAspectRatio: false,
      animation: false,
      events: [],
      layout: { padding: box.padding },
      plugins: {
        legend: { display: false },
        tooltip: { enabled: false },
        frameTicks: { title: title }
      },
      scales: {
        x: {
          type: 'linear', min: -1, max: 1,
          afterBuildTicks: s => { s.ticks = xTickValues.map(v => ({ value: v })); },
          ticks: { display: box.showX, padding: 20, maxRotation: 0, autoSkip: false, callback: (v, i) => xTickLabels[i] },
          grid: { display: false, drawTicks: false },
          border: { display: false },
          afterFit: s => { s.height = box.xHeight; noScalePadding(s); }
        },
        y: {
          type: 'linear', min: -0.5, max: 0.5,
          afterBuildTicks: s => { s.ticks = yTickValues.map(v => ({ value: v })); },
          ticks: { display: box.showY, padding: 21, autoSkip: false, callback: (v, i) => yTickLabels[i] },
          grid: { display: false, drawTicks: false },
          border: { display: false },
          afterFit: s => { s.width = box.yWidth; noScalePadding(s); }
        }
      }
    },
    plugins: [frameTicks]
  });
}

makePanel('panelA', panelTitles[0], nonlinearLoops,
  { padding: { left: 0, top: 19, right: 29, bottom: 0 }, showX: false, showY: true, xHeight: 33, yWidth: 93, tension: 0.35, lineWidth: 0.9 });
makePanel('panelB', panelTitles[1], equivalentLoops,
  { padding: { left: 0, top: 19, right: 26, bottom: 0 }, showX: false, showY: false, xHeight: 33, yWidth: 16, tension: 0.35, lineWidth: 0.9 });
makePanel('panelC', panelTitles[2], yoshidaLoops,
  { padding: { left: 0, top: 19, right: 29, bottom: 0 }, showX: true, showY: true, xHeight: 72, yWidth: 93, tension: 0.4, lineWidth: 0.8 });
makePanel('panelD', panelTitles[3], kauselLoops,
  { padding: { left: 0, top: 19, right: 26, bottom: 0 }, showX: true, showY: false, xHeight: 72, yWidth: 16, tension: 0.4, lineWidth: 0.8 });
</script>
</body>
</html>
